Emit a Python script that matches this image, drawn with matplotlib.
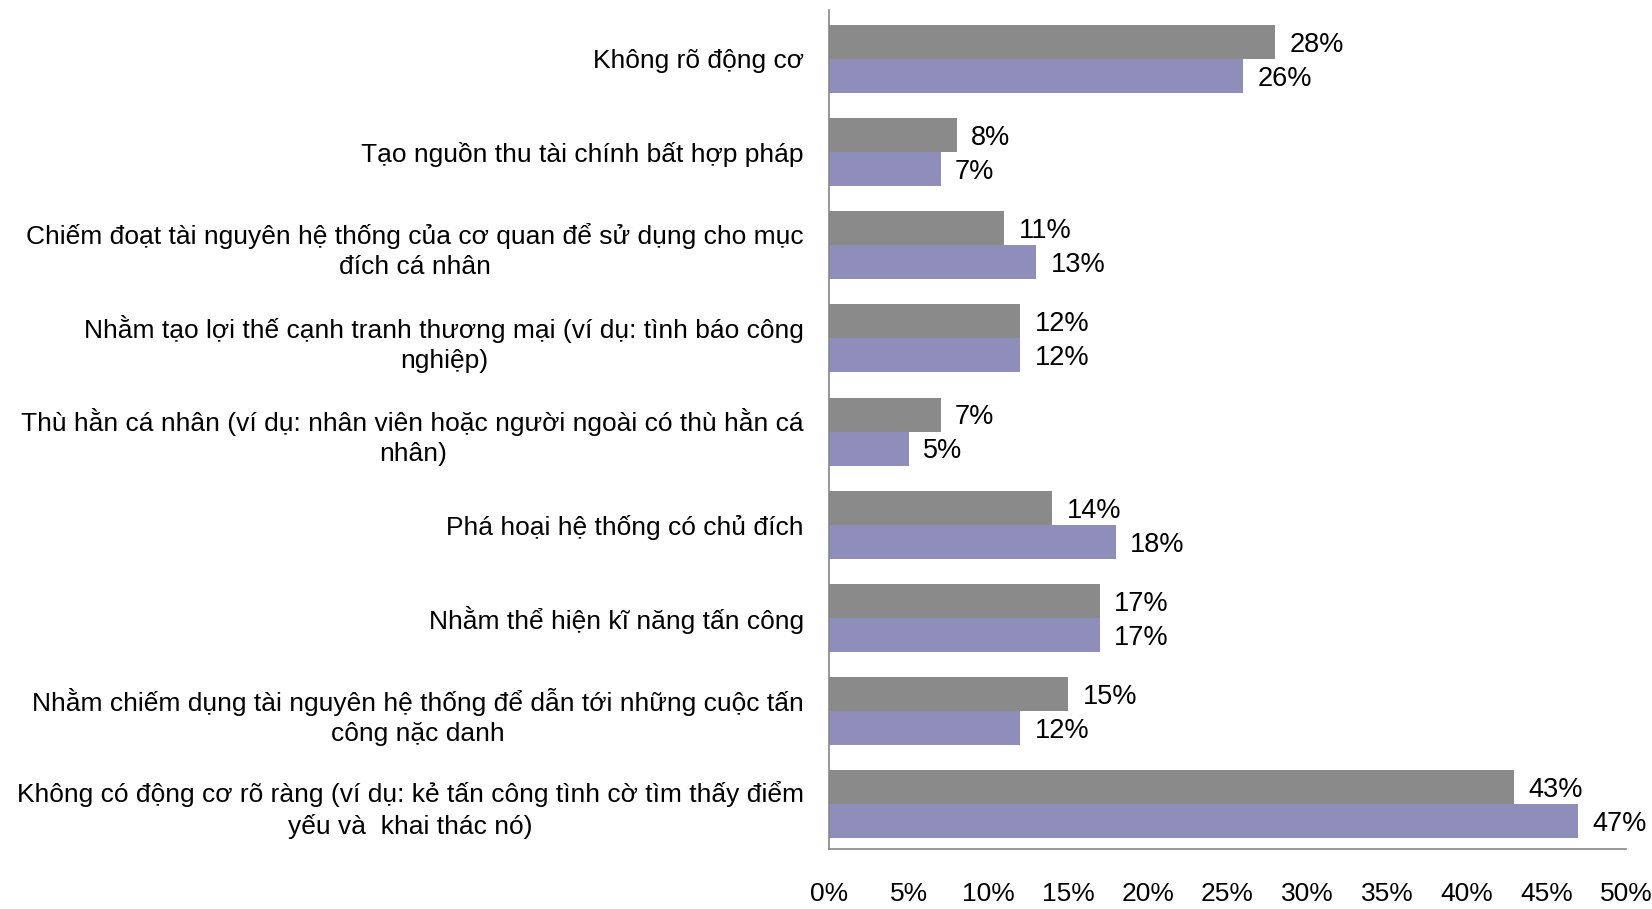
import matplotlib
matplotlib.use("Agg")
import matplotlib.pyplot as plt
import numpy as np

categories = [
    "Không rõ động cơ",
    "Tạo nguồn thu tài chính bất hợp pháp",
    "Chiếm đoạt tài nguyên hệ thống của cơ quan để sử dụng cho mục\nđích cá nhân",
    "Nhằm tạo lợi thế cạnh tranh thương mại (ví dụ: tình báo công\nnghiệp)",
    "Thù hằn cá nhân (ví dụ: nhân viên hoặc người ngoài có thù hằn cá\nnhân)",
    "Phá hoại hệ thống có chủ đích",
    "Nhằm thể hiện kĩ năng tấn công",
    "Nhằm chiếm dụng tài nguyên hệ thống để dẫn tới những cuộc tấn\ncông nặc danh",
    "Không có động cơ rõ ràng (ví dụ: kẻ tấn công tình cờ tìm thấy điểm\nyếu và  khai thác nó)",
]
series_gray = [28, 8, 11, 12, 7, 14, 17, 15, 43]
series_purple = [26, 7, 13, 12, 5, 18, 17, 12, 47]
xticks = [0, 5, 10, 15, 20, 25, 30, 35, 40, 45, 50]

plt.rcParams['font.family'] = ['Liberation Sans', 'DejaVu Sans']

fig = plt.figure(figsize=(16.52, 9.09), dpi=100)
ax = fig.add_axes([0.5018, 0.066, 0.9843 - 0.5018, 0.9885 - 0.066])

n = len(categories)
y = np.arange(n)
h = 0.73 / 2
gray = "#8a8a8a"
purple = "#8f8eba"
ax.barh(y - h / 2, series_gray, height=h, color=gray, edgecolor="none")
ax.barh(y + h / 2, series_purple, height=h, color=purple, edgecolor="none")

fs = 19
fs_lab = 19.5
for i in range(n):
    ax.text(series_gray[i] + 0.9, y[i] - h / 2 + 0.03, f"{series_gray[i]}%", va="center", ha="left", fontsize=fs_lab)
    ax.text(series_purple[i] + 0.9, y[i] + h / 2 + 0.03, f"{series_purple[i]}%", va="center", ha="left", fontsize=fs_lab)

ax.set_ylim(n - 0.52, -0.52)
ax.set_xlim(0, 50)
ax.set_yticks(y)
ax.set_yticklabels(categories, fontsize=fs, multialignment="center")
for lab in ax.get_yticklabels():
    lab.set_linespacing(1.32)
ax.set_xticks(xticks)
ax.set_xticklabels([f"{t}%" for t in xticks], fontsize=fs)
ax.tick_params(axis="y", length=0, pad=18)
ax.tick_params(axis="x", length=0, pad=24)
for s in ["top", "right"]:
    ax.spines[s].set_visible(False)
for s in ["left", "bottom"]:
    ax.spines[s].set_color("#868686")
    ax.spines[s].set_linewidth(1.2)

fig.savefig("out.png", dpi=100)
